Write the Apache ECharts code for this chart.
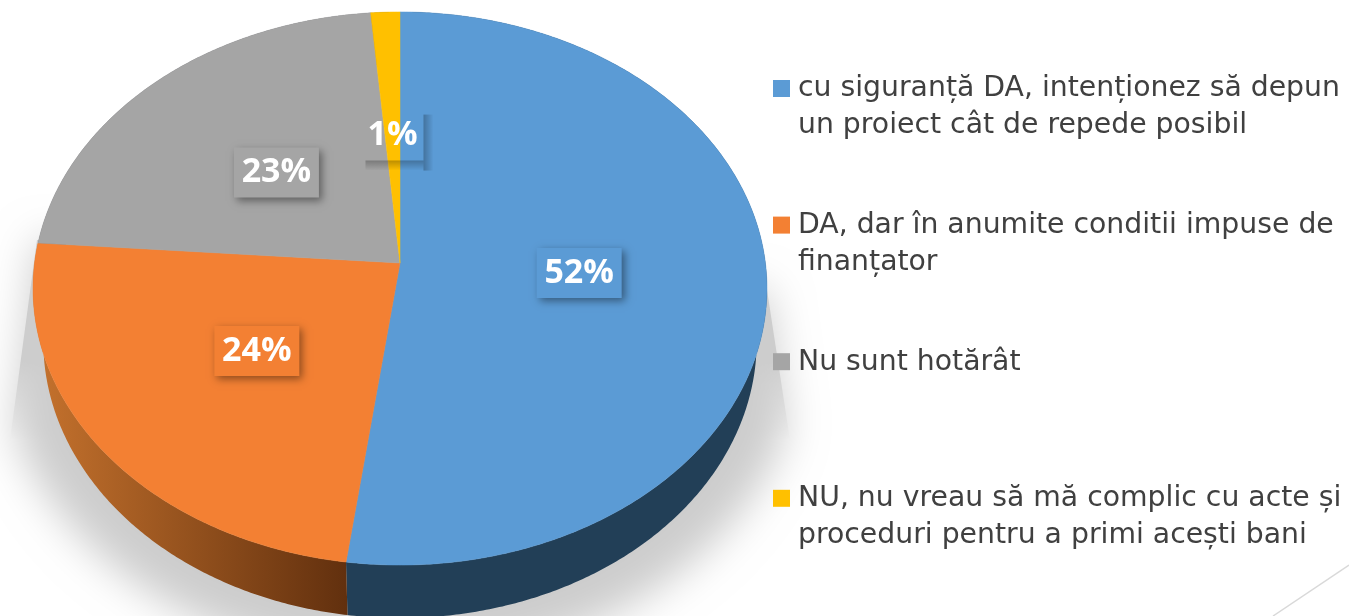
<!DOCTYPE html>
<html><head><meta charset="utf-8">
<style>html,body{margin:0;padding:0;background:#fff}#c{width:1349px;height:616px}</style>
<script src="https://cdn.jsdelivr.net/npm/echarts@6/dist/echarts.min.js"></script>
</head><body><div id="c"></div>
<script>
const categories = [
  "cu siguranță DA, intenționez să depun\nun proiect cât de repede posibil",
  "DA, dar în anumite conditii impuse de\nfinanțator",
  "Nu sunt hotărât",
  "NU, nu vreau să mă complic cu acte și\nproceduri pentru a primi acești bani"
];
const shares = [52.3, 24.1, 22.5, 1.4];
const colors = ["#5b9bd5", "#f38033", "#a5a5a5", "#ffc000"];

const total = shares.reduce((a, b) => a + b, 0);
const CX = 400, CY = 263, K = 0.0922, A = 274.2, B = 365.4, DEPTH = 53, SHRINK = 0.972;
function proj(deg, f) {
  const r = deg * Math.PI / 180, u = Math.sin(r) * f, v = -Math.cos(r) * f, d = 1 - K * v;
  return [CX + B * u / d, CY + A * v / d];
}
function range(i) {
  let s = 0;
  for (let j = 0; j < i; j++) s += shares[j];
  return [s / total * 360, (s + shares[i]) / total * 360];
}
function arc(a0, a1) {
  const pts = [], n = Math.max(2, Math.ceil((a1 - a0) * 2));
  for (let k = 0; k <= n; k++) pts.push(proj(a0 + (a1 - a0) * k / n, 1));
  return pts;
}
function bez(p0, p1, p2, p3) {
  const out = [];
  for (let k = 0; k <= 40; k++) {
    const t = k / 40, m = 1 - t;
    out.push([0, 1].map(d => m*m*m*p0[d] + 3*m*m*t*p1[d] + 3*m*t*t*p2[d] + t*t*t*p3[d]));
  }
  return out;
}
const shadowOutline = [[37,240]].concat(
  bez([14,430],[50,535],[180,660],[400,660]),
  bez([400,660],[620,660],[750,535],[786,430]),
  [[767,290]]);
const grad = (x, y, x2, y2, a, b) => ({type: 'linear', global: true, x, y, x2, y2,
  colorStops: [{offset: 0, color: a}, {offset: 1, color: b}]});
const sideFill = i => i === 1 ? grad(45, 0, 346, 0, '#c2702c', '#62300e')
  : (i === 0 ? '#223f57' : i === 2 ? '#63636a' : '#997300');

const sideSeries = {
  type: 'custom', coordinateSystem: 'none', silent: true, z: 2,
  data: shares.map((v, i) => [v, i]),
  renderItem(p, api) {
    const i = api.value(1), [a0, a1] = range(i), top = arc(a0, a1);
    const bottom = top.slice().reverse().map(q => [CX + (q[0] - CX) * SHRINK, q[1] + DEPTH]);
    return {type: 'polygon', shape: {points: top.concat(bottom)},
      style: {fill: sideFill(i), stroke: null}};
  }
};
const topSeries = {
  type: 'custom', coordinateSystem: 'none', silent: true, z: 3,
  data: shares.map((v, i) => [v, i]),
  renderItem(p, api) {
    const i = api.value(1), [a0, a1] = range(i);
    return {type: 'polygon', shape: {points: [[CX, CY]].concat(arc(a0, a1))},
      style: {fill: colors[i], stroke: colors[i], lineWidth: 0.5}};
  }
};
const labelSeries = {
  type: 'custom', coordinateSystem: 'none', silent: true, z: 4,
  data: shares.map((v, i) => [v, i]),
  renderItem(p, api) {
    const i = api.value(1), [a0, a1] = range(i), c = proj((a0 + a1) / 2, 0.49);
    c[1] += 1;
    const txt = Math.round(api.value(0)) + '%';
    const w = txt.length === 2 ? 62 : 85, h = 50, L = c[0] - w / 2, T = c[1] - h / 2, R = L + w, Bt = T + h;
    const box = i === 3 ? [
      {type: 'rect', shape: {x: R, y: T + 4, width: 10, height: h + 6},
        style: {fill: grad(R, 0, R + 10, 0, 'rgba(0,0,0,0.26)', 'rgba(0,0,0,0)')}},
      {type: 'rect', shape: {x: L + 4, y: Bt, width: w - 4, height: 10},
        style: {fill: grad(0, Bt, 0, Bt + 10, 'rgba(0,0,0,0.26)', 'rgba(0,0,0,0)')}}
    ] : [
      {type: 'rect', shape: {x: L, y: T, width: w, height: h},
        style: {fill: colors[i], shadowBlur: 8, shadowOffsetX: 3, shadowOffsetY: 3, shadowColor: 'rgba(0,0,0,0.42)'}}
    ];
    return {type: 'group', children: box.concat([
      {type: 'text', style: {text: txt, x: c[0], y: c[1], align: 'center', verticalAlign: 'middle',
        fill: '#fff', font: '700 34px "Open Sans"'}}
    ])};
  }
};
const legendSeries = {
  type: 'custom', coordinateSystem: 'none', silent: true, z: 5,
  data: categories.map((c, i) => [i]),
  renderItem(p, api) {
    const i = api.value(0), y = 88.5 + i * 136.6;
    return {type: 'group', children: [
      {type: 'rect', shape: {x: 773, y: y - 8.5, width: 17, height: 17}, style: {fill: colors[i]}},
      {type: 'text', style: {text: categories[i], x: 798, y: y - 18, verticalAlign: 'top',
        lineHeight: 37, fill: '#404040', font: '28.3px "DejaVu Sans"'}}
    ]};
  }
};
const chart = echarts.init(document.getElementById('c'), null, {renderer: 'canvas'});
chart.setOption({
  animation: false,
  backgroundColor: '#fff',
  graphic: [
    {type: 'polygon', z: 0, shape: {points: [[37,240],[10,440],[790,440],[767,290]]},
      style: {fill: {type: 'linear', global: true, x: 0, y: 240, x2: 0, y2: 440,
        colorStops: [{offset: 0, color: 'rgba(205,205,205,1)'}, {offset: 0.6, color: 'rgba(205,205,205,1)'}, {offset: 1, color: 'rgba(205,205,205,0)'}]}}},
    {type: 'polygon', z: 0, x: -3000,
      shape: {points: shadowOutline},
      style: {fill: '#cdcdcd', shadowColor: '#cdcdcd', shadowBlur: 40, shadowOffsetX: 3000}},
    {type: 'line', z: 1, shape: {x1: 1273, y1: 616, x2: 1349, y2: 565}, style: {stroke: '#d9d9d9', lineWidth: 1.5}}
  ],
  series: [sideSeries, topSeries, labelSeries, legendSeries]
});
</script></body></html>
